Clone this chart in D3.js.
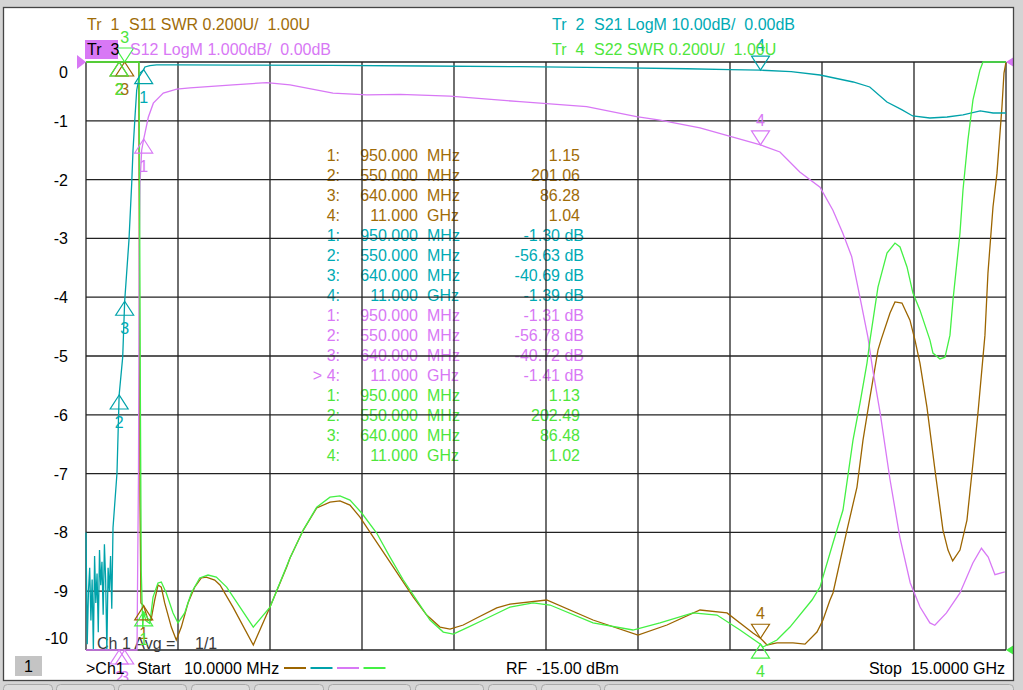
<!DOCTYPE html>
<html>
<head>
<meta charset="utf-8">
<script src="https://cdn.jsdelivr.net/npm/d3@7"></script>
<style>
  body { margin: 0; background: #d4d4d4; overflow: hidden; }
  text { font-family: "Liberation Sans", Arial, sans-serif; font-size: 16px; white-space: pre; }
</style>
</head>
<body>
<script>
// ---- data (freq in GHz) ----
// Tr1 S11, SWR
var s11 = [[0.01,900],[0.30,500],[0.55,201.06],[0.64,86.28],[0.80,12],[0.87,3.1],[0.89,1.5],[0.905,1.16],[0.95,1.15],[0.971,1.136],[1.020,1.102],[1.069,1.102],[1.129,1.170],[1.183,1.221],[1.237,1.214],[1.292,1.160],[1.400,1.078],[1.481,1.034],[1.563,1.078],[1.672,1.160],[1.781,1.214],[1.889,1.245],[1.970,1.248],[2.107,1.238],[2.193,1.221],[2.405,1.146],[2.736,1.017],[3.008,1.146],[3.280,1.282],[3.334,1.313],[3.550,1.408],[3.769,1.483],[3.985,1.503],[4.148,1.507],[4.311,1.493],[4.474,1.452],[4.691,1.384],[4.909,1.316],[5.126,1.248],[5.343,1.180],[5.561,1.119],[5.778,1.078],[5.941,1.071],[6.157,1.085],[6.376,1.109],[6.702,1.143],[6.918,1.156],[7.516,1.170],[8.271,1.102],[9.004,1.051],[9.476,1.085],[10.014,1.136],[10.454,1.126],[10.877,1.058],[11.0,1.04],[11.106,1.017],[11.268,1.024],[11.529,1.024],[11.725,1.020],[11.920,1.061],[12.018,1.102],[12.132,1.170],[12.181,1.194],[12.409,1.408],[12.572,1.554],[12.670,1.714],[12.784,1.860],[12.914,2.020],[12.963,2.054],[13.110,2.146],[13.191,2.184],[13.305,2.180],[13.435,2.122],[13.517,2.054],[13.598,1.976],[13.712,1.826],[13.843,1.612],[13.973,1.408],[14.055,1.340],[14.131,1.303],[14.250,1.340],[14.364,1.442],[14.462,1.636],[14.543,1.806],[14.625,1.996],[14.657,2.071],[14.706,2.282],[14.788,2.507],[14.853,2.622],[14.934,2.847],[14.967,2.962],[15.0,3.05]];

// Tr2 S21, dB
var s21 = [[0.01,-80],[0.03,-99],[0.05,-90],[0.07,-86],[0.09,-95],[0.11,-88],[0.13,-104],[0.15,-84],[0.17,-92],[0.19,-87],[0.21,-97],[0.23,-83],[0.25,-89],[0.27,-85],[0.29,-94],[0.31,-82],[0.33,-88],[0.35,-106],[0.37,-86],[0.39,-90],[0.41,-84],[0.43,-93],[0.45,-79.2],[0.515,-69.9],[0.55,-56.63],[0.608,-50.2],[0.64,-40.69],[0.71,-30.3],[0.755,-20.6],[0.776,-15.0],[0.808,-9.35],[0.836,-4.8],[0.89,-1.87],[0.95,-1.30],[0.97,-0.85],[1.05,-0.60],[1.16,-0.50],[1.5,-0.48],[2.5,-0.52],[4.0,-0.58],[5.5,-0.68],[7.08,-0.80],[8.5,-0.95],[9.8,-1.15],[10.5,-1.30],[11.0,-1.39],[11.5,-1.62],[11.97,-2.21],[12.51,-3.40],[12.78,-4.25],[13.06,-6.80],[13.3,-8.1],[13.48,-9.18],[13.76,-9.52],[14.04,-9.35],[14.30,-9.01],[14.58,-8.33],[14.79,-8.67],[15.0,-8.67]];

// Tr3 S12, dB
var s12 = [[0.01,-72],[0.30,-78],[0.55,-56.78],[0.64,-40.72],[0.80,-16],[0.841,-10.5],[0.865,-7.0],[0.878,-3.2],[0.89,-2.06],[0.917,-1.5],[0.95,-1.31],[0.971,-1.21],[1.025,-0.94],[1.107,-0.70],[1.269,-0.53],[1.488,-0.46],[1.704,-0.44],[2.405,-0.39],[2.954,-0.35],[3.334,-0.39],[4.034,-0.53],[4.588,-0.56],[5.126,-0.55],[5.94,-0.58],[7.081,-0.675],[8.168,-0.76],[8.98,-0.93],[9.362,-0.99],[10.014,-1.12],[11.0,-1.41],[11.317,-1.53],[11.64,-1.87],[11.97,-2.13],[12.18,-2.52],[12.34,-2.91],[12.486,-3.31],[12.62,-4.0],[12.75,-4.68],[12.83,-5.24],[12.95,-5.97],[13.11,-7.1],[13.27,-8.08],[13.44,-8.86],[13.60,-9.27],[13.76,-9.54],[13.84,-9.58],[14.03,-9.37],[14.25,-9.03],[14.46,-8.52],[14.60,-8.27],[14.71,-8.42],[14.82,-8.72],[14.98,-8.67]];

// Tr4 S22, SWR
var s22 = [[0.01,800],[0.30,450],[0.55,202.49],[0.64,86.48],[0.80,14],[0.875,3.1],[0.895,1.9],[0.91,1.27],[0.935,1.075],[0.95,1.13],[0.985,1.10],[1.05,1.09],[1.102,1.180],[1.183,1.228],[1.237,1.231],[1.318,1.194],[1.428,1.126],[1.509,1.092],[1.618,1.126],[1.726,1.194],[1.863,1.245],[1.998,1.255],[2.133,1.248],[2.302,1.214],[2.736,1.078],[3.008,1.146],[3.334,1.313],[3.550,1.408],[3.769,1.486],[3.985,1.520],[4.148,1.524],[4.311,1.510],[4.502,1.466],[4.746,1.398],[4.963,1.316],[5.180,1.238],[5.398,1.170],[5.615,1.102],[5.831,1.061],[5.994,1.054],[6.213,1.075],[6.483,1.102],[6.918,1.146],[7.293,1.160],[7.570,1.153],[8.271,1.092],[8.922,1.068],[9.362,1.092],[9.900,1.126],[10.291,1.119],[10.666,1.068],[11.0,1.02],[11.040,1.010],[11.268,1.034],[11.480,1.078],[11.839,1.170],[11.969,1.214],[12.181,1.364],[12.344,1.476],[12.507,1.714],[12.621,1.840],[12.735,1.976],[12.784,2.054],[12.914,2.234],[13.061,2.350],[13.191,2.384],[13.273,2.371],[13.387,2.303],[13.484,2.214],[13.598,2.156],[13.761,2.054],[13.810,2.010],[13.924,1.990],[14.006,1.996],[14.087,2.071],[14.136,2.190],[14.250,2.418],[14.299,2.564],[14.380,2.735],[14.462,2.871],[14.576,2.973],[14.625,3.05],[15.0,3.6]];

// markers
var markerFreq = [0.95, 0.55, 0.64, 11.0];
var markerFreqText = ["950.000", "550.000", "640.000", "11.000"];
var markerUnitText = ["MHz", "MHz", "MHz", "GHz"];
var s11Marks = [1.15, 201.06, 86.28, 1.04];
var s21Marks = [-1.30, -56.63, -40.69, -1.39];
var s12Marks = [-1.31, -56.78, -40.72, -1.41];
var s22Marks = [1.13, 202.49, 86.48, 1.02];
// which way each marker flag sits: "u" = triangle below pointing up, "d" = above pointing down
var s11Dir = ["u", "u", "u", "d"];
var s21Dir = ["u", "u", "u", "d"];
var s12Dir = ["u", "u", "u", "d"];
var s22Dir = ["u", "u", "d", "u"];

var yTicks = [0, -1, -2, -3, -4, -5, -6, -7, -8, -9, -10];

// ---- setup ----
var W = 1023, H = 690;
var L = 86, R = 1006, T = 62, B = 650;

var svg = d3.select("body").append("svg").attr("width", W).attr("height", H);

var x = d3.scaleLinear().domain([0.01, 15]).range([L, R]);
var ySwr = d3.scaleLinear().domain([1, 3]).range([B, T]);
var yLog1 = d3.scaleLinear().domain([-10, 0]).range([B, T]);
var yLog10 = d3.scaleLinear().domain([-100, 0]).range([B, T]);

var traces = [
  {tr: "Tr  1", meas: "S11 SWR 0.200U/  1.00U", data: s11, y: ySwr, color: "#9c6500", text: "#a06c08", marks: s11Marks, dir: s11Dir, unit: "", hx: 87, hy: 30},
  {tr: "Tr  2", meas: "S21 LogM 10.00dB/  0.00dB", data: s21, y: yLog10, color: "#00a2aa", text: "#00aab4", marks: s21Marks, dir: s21Dir, unit: " dB", hx: 552, hy: 30},
  {tr: "Tr  3", meas: "S12 LogM 1.000dB/  0.00dB", data: s12, y: yLog1, color: "#d878f5", text: "#d878f5", marks: s12Marks, dir: s12Dir, unit: " dB", hx: 87, hy: 55, active: true},
  {tr: "Tr  4", meas: "S22 SWR 0.200U/  1.00U", data: s22, y: ySwr, color: "#44f044", text: "#4ee63c", marks: s22Marks, dir: s22Dir, unit: "", hx: 552, hy: 55}
];

function clampY(v) { return Math.max(T, Math.min(B, v)); }

// white panel
svg.append("rect").attr("x", 3.5).attr("y", 7.5).attr("width", 1010).attr("height", 673)
  .attr("fill", "#fff");

// marker table (under the grid)
var table = svg.append("g");
traces.forEach(function(t, ti) {
  t.marks.forEach(function(v, i) {
    var yy = 161 + 20 * (ti * 4 + i);
    var lbl = (t.active && i == 3 ? "> " : "") + (i + 1) + ":";
    table.append("text").attr("x", 340).attr("y", yy).attr("text-anchor", "end").attr("fill", t.text).text(lbl);
    table.append("text").attr("x", 418).attr("y", yy).attr("text-anchor", "end").attr("fill", t.text).text(markerFreqText[i]);
    table.append("text").attr("x", 427).attr("y", yy).attr("fill", t.text).text(markerUnitText[i]);
    table.append("text").attr("x", t.unit ? 584 : 580).attr("y", yy).attr("text-anchor", "end")
      .attr("fill", t.text).text(v.toFixed(2) + t.unit);
  });
});

// grid
var grid = svg.append("g").attr("stroke", "#222").attr("stroke-width", 1.3);
d3.range(11).forEach(function(i) {
  var gx = L + i * (R - L) / 10;
  grid.append("line").attr("x1", gx).attr("x2", gx).attr("y1", T).attr("y2", B);
});
yTicks.forEach(function(t) {
  grid.append("line").attr("x1", L).attr("x2", R).attr("y1", yLog1(t)).attr("y2", yLog1(t));
});

// y labels
svg.append("g").selectAll("text").data(yTicks).enter().append("text")
  .attr("x", 68).attr("text-anchor", "end").attr("fill", "#000")
  .attr("y", function(d) { return Math.max(72, Math.min(638, yLog1(d))) + 6; })
  .text(function(d) { return d; });

// "Ch 1 Avg" text
svg.append("text").attr("x", 97).attr("y", 649).attr("fill", "#3a3a3a").text("Ch 1 Avg =");
svg.append("text").attr("x", 195).attr("y", 649).attr("fill", "#3a3a3a").text("1/1");

// traces
traces.forEach(function(t) {
  var line = d3.line()
    .x(function(d) { return x(d[0]); })
    .y(function(d) { return clampY(t.y(d[1])); });
  svg.append("path").datum(t.data).attr("d", line)
    .attr("fill", "none").attr("stroke", t.color).attr("stroke-width", 1.3);
});

// marker flags
traces.forEach(function(t) {
  var g = svg.append("g");
  t.marks.forEach(function(v, i) {
    var mx = x(markerFreq[i]);
    var my = clampY(t.y(v));
    var s = t.dir[i] == "u" ? 1 : -1;
    var by = my + s * 14;
    g.append("path")
      .attr("d", "M" + mx + "," + my + "L" + (mx - 9) + "," + by + "L" + (mx + 9) + "," + by + "Z")
      .attr("fill", "none").attr("stroke", t.color).attr("stroke-width", 1.2);
    g.append("text").attr("x", mx).attr("y", s > 0 ? by + 19 : by - 5)
      .attr("text-anchor", "middle").attr("fill", t.text).text(i + 1);
  });
});

// reference position arrows
svg.append("path").attr("fill", "#d878f5")
  .attr("d", "M" + L + "," + yLog1(0) + "L" + (L - 9) + "," + (yLog1(0) - 7) + "L" + (L - 9) + "," + (yLog1(0) + 7) + "Z");
svg.append("path").attr("fill", "#d878f5")
  .attr("d", "M" + R + "," + yLog1(0) + "L" + (R + 11) + "," + (yLog1(0) - 7) + "L" + (R + 11) + "," + (yLog1(0) + 7) + "Z");
svg.append("path").attr("fill", "#44f044")
  .attr("d", "M" + R + "," + ySwr(1) + "L" + (R + 11) + "," + (ySwr(1) - 7) + "L" + (R + 11) + "," + (ySwr(1) + 7) + "Z");

// headers
traces.forEach(function(t) {
  if (t.active) {
    svg.append("rect").attr("x", 85).attr("y", t.hy - 15).attr("width", 33).attr("height", 19).attr("fill", "#d878f5");
    svg.append("text").attr("x", t.hx).attr("y", t.hy).attr("fill", "#000").text(t.tr);
    svg.append("text").attr("x", t.hx + 43).attr("y", t.hy).attr("fill", t.text).text(t.meas);
  } else {
    svg.append("text").attr("x", t.hx).attr("y", t.hy).attr("fill", t.text).text(t.tr);
    svg.append("text").attr("x", t.hx + 42).attr("y", t.hy).attr("fill", t.text).text(t.meas);
  }
});

// bottom gray strip and tabs
svg.append("rect").attr("x", 0).attr("y", 681).attr("width", W).attr("height", 9).attr("fill", "#d4d4d4");
svg.append("rect").attr("x", 1014).attr("y", 0).attr("width", 9).attr("height", H).attr("fill", "#d4d4d4");
var tabs = [[3, 52], [56, 114], [118, 186], [191, 249], [254, 323], [328, 410], [415, 483], [488, 536], [541, 600], [604, 1013]];
svg.append("g").selectAll("rect").data(tabs).enter().append("rect")
  .attr("x", function(d) { return d[0] + 0.5; }).attr("y", 684.5)
  .attr("width", function(d) { return d[1] - d[0]; }).attr("height", 12)
  .attr("rx", 4).attr("fill", "#dcdcdc").attr("stroke", "#a8a8a8");

// frame
svg.append("rect").attr("x", 3.5).attr("y", 7.5).attr("width", 1010).attr("height", 673)
  .attr("fill", "none").attr("stroke", "#444").attr("stroke-width", 1.3);

// status line
svg.append("rect").attr("x", 15).attr("y", 656).attr("width", 27).attr("height", 20).attr("fill", "#c4c4c4");
svg.append("text").attr("x", 28.5).attr("y", 672).attr("text-anchor", "middle").attr("fill", "#000").text("1");
svg.append("text").attr("x", 86).attr("y", 674).attr("fill", "#000").text(">Ch1");
svg.append("text").attr("x", 137).attr("y", 674).attr("fill", "#000").text("Start");
svg.append("text").attr("x", 184).attr("y", 674).attr("fill", "#000").text("10.0000 MHz");
traces.forEach(function(t, i) {
  svg.append("line").attr("x1", 284 + i * 26.5).attr("x2", 306 + i * 26.5).attr("y1", 668).attr("y2", 668)
    .attr("stroke", t.color).attr("stroke-width", 2);
});
svg.append("text").attr("x", 506).attr("y", 674).attr("fill", "#000").text("RF  -15.00 dBm");
svg.append("text").attr("x", 1005).attr("y", 674).attr("text-anchor", "end").attr("fill", "#000").text("Stop  15.0000 GHz");
</script>
</body>
</html>
